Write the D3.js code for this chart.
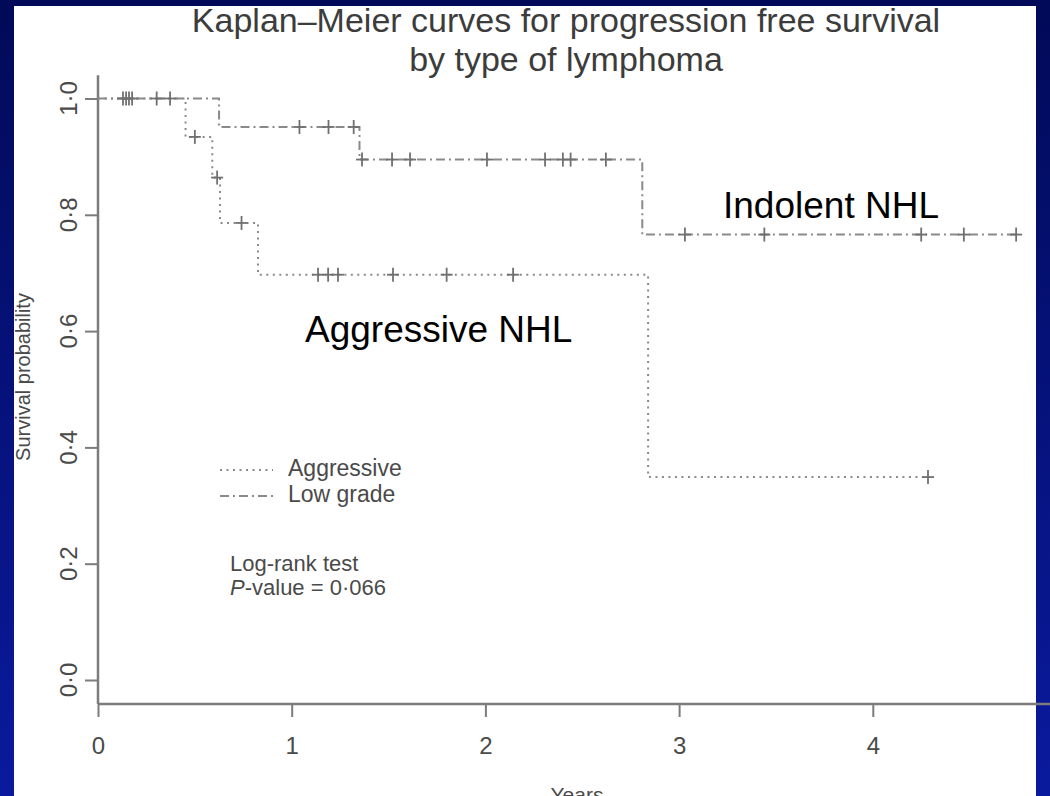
<!DOCTYPE html>
<html><head><meta charset="utf-8">
<script src="https://cdn.jsdelivr.net/npm/d3@7"></script>
<style>html,body{margin:0;padding:0;background:#000a5e;} svg{display:block;}</style>
</head><body>
<svg id="c" width="1050" height="796"></svg>
<script>
// ---- data ----
const titleLines = ["Kaplan\u2013Meier curves for progression free survival", "by type of lymphoma"];
const xTicks = [0, 1, 2, 3, 4];
const xTickLabels = ["0", "1", "2", "3", "4"];
const yTicks = [0, 0.2, 0.4, 0.6, 0.8, 1.0];
const yTickLabels = ["0\u00b70", "0\u00b72", "0\u00b74", "0\u00b76", "0\u00b78", "1\u00b70"];
const seriesNames = ["Aggressive", "Low grade"];
const annotationNames = ["Aggressive NHL", "Indolent NHL"];
// Aggressive NHL
const aggEventTimes = [0.452, 0.59, 0.63, 0.826, 2.84];
const aggSurvival = [0.934, 0.864, 0.786, 0.697, 0.349];
const aggCensorTimes = [0.50, 0.615, 0.741, 1.136, 1.188, 1.239, 1.523, 1.80, 2.143, 4.285];
// Low grade (indolent) NHL
const lowEventTimes = [0.625, 1.35, 2.81];
const lowSurvival = [0.951, 0.895, 0.766];
const lowCensorTimes = [0.129, 0.145, 0.160, 0.176, 0.303, 0.372, 1.04, 1.19, 1.32, 1.363, 1.518, 1.611,
  2.008, 2.308, 2.40, 2.44, 2.622, 3.03, 3.44, 4.25, 4.47, 4.74];

// ---- drawing ----
const W = 1050, H = 796;
const FONT = "'Liberation Sans', Arial, sans-serif";
const svg = d3.select("#c");
const defs = svg.append("defs");
const grad = defs.append("linearGradient").attr("id", "bg").attr("x1", 0).attr("y1", 0).attr("x2", 0).attr("y2", 1);
grad.append("stop").attr("offset", "0%").attr("stop-color", "#010a58");
grad.append("stop").attr("offset", "100%").attr("stop-color", "#0a1a9e");
svg.append("rect").attr("width", W).attr("height", H).attr("fill", "url(#bg)");
svg.append("rect").attr("x", 14).attr("y", 6).attr("width", 1022).attr("height", H - 6).attr("fill", "#ffffff");

const x = d3.scaleLinear().domain([0, 4]).range([98, 872.8]);
const y = d3.scaleLinear().domain([0, 1]).range([680, 98.5]);
const axisColor = "#7c7c7c", textColor = "#4a4a4a", lineColor = "#8a8a8a", markColor = "#707070";

// title
svg.append("g").selectAll("text").data(titleLines).join("text")
  .attr("x", 566).attr("y", (d, i) => 32 + i * 39)
  .attr("text-anchor", "middle").attr("font-family", FONT).attr("font-size", 34)
  .attr("fill", "#3c3c3c").text(d => d);

// x axis
const xAxisY = 704;
const gx = svg.append("g").attr("transform", `translate(0,${xAxisY})`)
  .call(d3.axisBottom(x).tickValues(xTicks).tickFormat((d, i) => xTickLabels[i]).tickSize(13).tickPadding(20));
gx.select(".domain").remove();
gx.selectAll(".tick line").attr("stroke", axisColor).attr("stroke-width", 2);
gx.selectAll(".tick text").attr("font-family", FONT).attr("font-size", 24).attr("fill", textColor);
svg.append("line").attr("x1", x(0)).attr("x2", x(4.98)).attr("y1", xAxisY).attr("y2", xAxisY)
  .attr("stroke", axisColor).attr("stroke-width", 2.5);

// y axis
const gy = svg.append("g").attr("transform", `translate(${x(0)},0)`)
  .call(d3.axisLeft(y).tickValues(yTicks).tickFormat("").tickSize(13));
gy.select(".domain").remove();
gy.selectAll(".tick line").attr("stroke", axisColor).attr("stroke-width", 2);
svg.append("line").attr("x1", x(0)).attr("x2", x(0)).attr("y1", y(1.04)).attr("y2", xAxisY)
  .attr("stroke", axisColor).attr("stroke-width", 2.5);
svg.append("g").selectAll("text").data(yTicks).join("text")
  .attr("transform", d => `translate(77,${y(d)}) rotate(-90)`)
  .attr("text-anchor", "middle").attr("font-family", FONT).attr("font-size", 24)
  .attr("fill", textColor).text((d, i) => yTickLabels[i]);

// axis titles
svg.append("text").attr("transform", "translate(30,377) rotate(-90)")
  .attr("text-anchor", "middle").attr("font-family", FONT).attr("font-size", 20)
  .attr("fill", textColor).text("Survival probability");
svg.append("text").attr("x", 577).attr("y", 802)
  .attr("text-anchor", "middle").attr("font-family", FONT).attr("font-size", 21)
  .attr("fill", textColor).text("Years");

// KM curves
function stepValue(times, surv, t) {
  let s = 1;
  for (let i = 0; i < times.length; i++) if (times[i] <= t) s = surv[i];
  return s;
}
function curvePoints(times, surv, censors) {
  const end = d3.max(censors.concat(times));
  const pts = [[0, 1]];
  times.forEach((t, i) => pts.push([t, surv[i]]));
  pts.push([end, surv[surv.length - 1]]);
  return pts;
}
const line = d3.line().x(d => x(d[0])).y(d => y(d[1])).curve(d3.curveStepAfter);
const series = [
  { times: aggEventTimes, surv: aggSurvival, cens: aggCensorTimes, dash: "2,4.5" },
  { times: lowEventTimes, surv: lowSurvival, cens: lowCensorTimes, dash: "9,4,2,4" }
];
series.forEach(s => {
  svg.append("path").attr("d", line(curvePoints(s.times, s.surv, s.cens)))
    .attr("fill", "none").attr("stroke", lineColor).attr("stroke-width", 2)
    .attr("stroke-dasharray", s.dash);
  const g = svg.append("g");
  s.cens.forEach(t => {
    const cx = x(t), cy = y(stepValue(s.times, s.surv, t));
    g.append("line").attr("x1", cx).attr("x2", cx).attr("y1", cy - 7).attr("y2", cy + 7)
      .attr("stroke", markColor).attr("stroke-width", 1.8);
    g.append("line").attr("x1", cx - 6).attr("x2", cx + 6).attr("y1", cy).attr("y2", cy)
      .attr("stroke", markColor).attr("stroke-width", 1.8);
  });
});

// legend
const legend = svg.append("g");
series.forEach((s, i) => {
  const ly = 470 + i * 26;
  legend.append("line").attr("x1", 220).attr("x2", 273).attr("y1", ly).attr("y2", ly)
    .attr("stroke", lineColor).attr("stroke-width", 2).attr("stroke-dasharray", s.dash);
  legend.append("text").attr("x", 288).attr("y", ly + 6)
    .attr("font-family", FONT).attr("font-size", 23).attr("fill", textColor).text(seriesNames[i]);
});

// log-rank text
svg.append("text").attr("x", 230).attr("y", 571).attr("font-family", FONT).attr("font-size", 22)
  .attr("fill", textColor).text("Log-rank test");
const pv = svg.append("text").attr("x", 230).attr("y", 595).attr("font-family", FONT).attr("font-size", 22)
  .attr("fill", textColor);
pv.append("tspan").attr("font-style", "italic").text("P");
pv.append("tspan").text("-value = 0\u00b7066");

// annotations
svg.append("text").attr("x", 305).attr("y", 342).attr("font-family", FONT).attr("font-size", 37)
  .attr("fill", "#000").text(annotationNames[0]);
svg.append("text").attr("x", 723).attr("y", 218).attr("font-family", FONT).attr("font-size", 37)
  .attr("fill", "#000").text(annotationNames[1]);
</script>
</body></html>
